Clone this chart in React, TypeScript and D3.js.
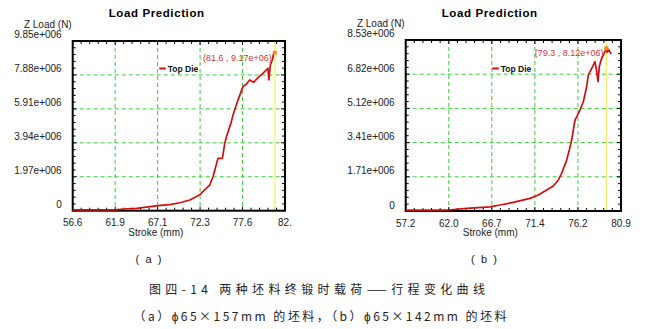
import React from "react";
import * as d3 from "d3";

// ---------- data ----------
const strokeA = [56.6, 60.8, 61.82, 62.84, 64.5, 67.16, 68.61, 69.84, 71.08, 72.31, 73.54, 73.95, 74.57, 75.11, 75.4, 75.68, 76.22, 76.42, 77.04, 77.65, 78.07, 78.48, 78.97, 79.51, 79.92, 80.33, 80.74, 80.86, 81.04, 81.28, 81.44, 81.6];
const loadA = [0, 0, 0.04, 0.1, 0.14, 0.29, 0.35, 0.46, 0.62, 0.93, 1.49, 1.97, 3.04, 3.04, 3.91, 4.39, 5.17, 5.55, 6.42, 7.2, 7.34, 7.59, 7.45, 7.72, 7.88, 8.07, 8.27, 7.59, 8.46, 8.75, 9.1, 9.17];

const strokeB = [57.2, 60.61, 61.89, 63.92, 66.48, 67.58, 69.04, 70.88, 71.8, 72.53, 73.45, 74.0, 74.37, 74.92, 75.21, 75.47, 75.65, 75.84, 76.02, 76.39, 76.75, 77.12, 77.3, 77.68, 78.04, 78.23, 78.37, 78.51, 78.7, 78.95, 79.3, 79.39, 79.58, 79.81];
const loadB = [0, 0, 0.05, 0.13, 0.21, 0.3, 0.43, 0.63, 0.8, 1.0, 1.25, 1.55, 1.88, 2.54, 3.04, 3.54, 4.04, 4.54, 4.7, 5.04, 5.45, 6.2, 6.78, 7.12, 7.45, 6.95, 6.45, 7.2, 7.53, 7.78, 8.12, 7.92, 8.03, 7.83];

const xTickLabelsA = ["56.6", "61.9", "67.1", "72.3", "77.6", "82."];
const yTickLabelsA = ["0", "1.97e+006", "3.94e+006", "5.91e+006", "7.88e+006", "9.85e+006"];
const xTickLabelsB = ["57.2", "62.0", "66.7", "71.4", "76.2", "80.9"];
const yTickLabelsB = ["0", "1.71e+006", "3.41e+006", "5.12e+006", "6.82e+006", "8.53e+006"];

const xDomainA: [number, number] = [56.6, 82.85];
const yDomainA: [number, number] = [0, 9.85];
const xDomainB: [number, number] = [57.2, 80.9];
const yDomainB: [number, number] = [0, 8.53];

const peakA = { x: 81.6, y: 9.17, label: "(81.6 , 9.17e+06)" };
const peakB = { x: 79.3, y: 8.12, label: "(79.3 , 8.12e+06)" };

const seriesName = "Top Die";
const titleText = "Load Prediction";
const xAxisTitle = "Stroke (mm)";
const yAxisTitle = "Z Load (N)";

const subA = "(a)";
const subB = "(b)";
const caption1 = "图四-14 两种坯料终锻时载荷——行程变化曲线";
const caption2 = "（a）ϕ65×157mm 的坯料，（b）ϕ65×142mm 的坯料";

const FONT = "'Liberation Sans', Arial, sans-serif";
const CJK = "'Noto Sans CJK SC', sans-serif";

type PanelProps = {
  left: number; right: number; top: number; bottom: number;
  xs: number[]; ys: number[];
  xDomain: [number, number]; yDomain: [number, number];
  xLabels: string[]; yLabels: string[];
  peak: { x: number; y: number; label: string };
  legendX: number; legendY: number;
};

function Panel(p: PanelProps) {
  const x = d3.scaleLinear().domain(p.xDomain).range([p.left, p.right]);
  const y = d3.scaleLinear().domain(p.yDomain).range([p.bottom, p.top]);
  const nx = p.xLabels.length - 1;
  const ny = p.yLabels.length - 1;
  const xMajor = d3.range(nx + 1).map((i) => p.xDomain[0] + (i * (p.xDomain[1] - p.xDomain[0])) / nx);
  const yMajor = d3.range(ny + 1).map((i) => p.yDomain[0] + (i * (p.yDomain[1] - p.yDomain[0])) / ny);
  const xMinor = d3.range(nx * 5 + 1).map((i) => p.xDomain[0] + (i * (p.xDomain[1] - p.xDomain[0])) / (nx * 5));
  const yMinor = d3.range(ny * 5 + 1).map((i) => p.yDomain[0] + (i * (p.yDomain[1] - p.yDomain[0])) / (ny * 5));
  const line = d3
    .line<number>()
    .x((_, i) => x(p.xs[i]))
    .y((d) => Math.min(y(d), p.bottom - 0.8));
  const px = x(p.peak.x);
  const py = y(p.peak.y);
  return (
    <g>
      <text x={p.left + 84} y={17} textAnchor="middle" fontFamily={FONT} fontWeight="bold" fontSize={11.5} letterSpacing={0.6} fill="#000">
        {titleText}
      </text>
      <text x={p.left - 1} y={p.top - 13.5} textAnchor="end" fontFamily={FONT} fontSize={10} fill="#222">
        {yAxisTitle}
      </text>
      {/* grid */}
      {xMajor.slice(1, nx).map((v, i) => (
        <line key={"gx" + i} x1={x(v)} x2={x(v)} y1={p.top} y2={p.bottom} stroke="#3ccc3c" strokeWidth={1} strokeDasharray="4,3" />
      ))}
      {yMajor.slice(1, ny).map((v, i) => (
        <line key={"gy" + i} x1={p.left} x2={p.right} y1={y(v)} y2={y(v)} stroke="#3ccc3c" strokeWidth={1} strokeDasharray="4,3" />
      ))}
      {/* minor ticks */}
      {xMinor.map((v, i) => {
        const len = i % 5 === 0 ? 4 : 3;
        return (
          <g key={"tx" + i}>
            <line x1={x(v)} x2={x(v)} y1={p.bottom} y2={p.bottom - len} stroke="#000" strokeWidth={1} />
            <line x1={x(v)} x2={x(v)} y1={p.top} y2={p.top + len} stroke="#000" strokeWidth={1} />
          </g>
        );
      })}
      {yMinor.map((v, i) => {
        const len = i % 5 === 0 ? 4 : 3;
        return (
          <g key={"ty" + i}>
            <line x1={p.left} x2={p.left + len} y1={y(v)} y2={y(v)} stroke="#000" strokeWidth={1} />
            <line x1={p.right} x2={p.right - len} y1={y(v)} y2={y(v)} stroke="#000" strokeWidth={1} />
          </g>
        );
      })}
      {/* yellow marker line */}
      <line x1={px} x2={px} y1={p.top} y2={p.bottom} stroke="#f2ee6a" strokeWidth={1.2} />
      {/* frame */}
      <rect x={p.left} y={p.top} width={p.right - p.left} height={p.bottom - p.top} fill="none" stroke="#000" strokeWidth={2} />
      {/* curve */}
      <path d={line(p.ys) || ""} fill="none" stroke="#d01010" strokeWidth={1.7} strokeLinejoin="round" />
      <circle cx={px} cy={py} r={2.3} fill="#ff8a1a" />
      <text x={px - 3} y={py + 8} textAnchor="end" fontFamily={FONT} fontSize={9} fill="#d03535">
        {p.peak.label}
      </text>
      {/* legend */}
      <line x1={p.legendX} x2={p.legendX + 6.5} y1={p.legendY} y2={p.legendY} stroke="#d01010" strokeWidth={2} />
      <text x={p.legendX + 8.5} y={p.legendY + 3.3} fontFamily={FONT} fontWeight="bold" fontSize={8.5} fill="#111">
        {seriesName}
      </text>
      {/* tick labels */}
      {xMajor.map((v, i) => (
        <text key={"lx" + i} x={x(v)} y={p.bottom + 15.5} textAnchor="middle" fontFamily={FONT} fontSize={10} fill="#222">
          {p.xLabels[i]}
        </text>
      ))}
      {yMajor.map((v, i) => (
        <text key={"ly" + i} x={p.left - 11} y={y(v) - (i === ny ? 3.5 : 2.5)} textAnchor="end" fontFamily={FONT} fontSize={10} fill="#222">
          {p.yLabels[i]}
        </text>
      ))}
      <text x={(p.left + p.right) / 2 - 23} y={p.bottom + 25} textAnchor="middle" fontFamily={FONT} fontSize={10} fill="#222">
        {xAxisTitle}
      </text>
    </g>
  );
}

export default function App() {
  return (
    <svg width={647} height={329} style={{ position: "absolute", left: 0, top: 0, background: "#fff" }}>
      <rect x={0} y={0} width={647} height={329} fill="#fff" />
      <Panel left={72.7} right={285} top={41} bottom={210.7} xs={strokeA} ys={loadA} xDomain={xDomainA} yDomain={yDomainA}
        xLabels={xTickLabelsA} yLabels={yTickLabelsA} peak={peakA} legendX={159.3} legendY={68.5} />
      <Panel left={405.7} right={621} top={40} bottom={211} xs={strokeB} ys={loadB} xDomain={xDomainB} yDomain={yDomainB}
        xLabels={xTickLabelsB} yLabels={yTickLabelsB} peak={peakB} legendX={492.3} legendY={68.5} />
      <text x={148.5} y={262.5} textAnchor="middle" fontFamily={FONT} fontSize={11} fill="#222" textLength={26} lengthAdjust="spacing">{subA}</text>
      <text x={484} y={262.5} textAnchor="middle" fontFamily={FONT} fontSize={11} fill="#222" textLength={26} lengthAdjust="spacing">{subB}</text>
      <text x={317} y={293.5} textAnchor="middle" fontFamily={CJK} fontSize={12} fill="#222" textLength={336} lengthAdjust="spacing">{caption1}</text>
      <text x={320} y={320.5} textAnchor="middle" fontFamily={CJK} fontSize={12} fill="#222" textLength={373} lengthAdjust="spacing">{caption2}</text>
    </svg>
  );
}
